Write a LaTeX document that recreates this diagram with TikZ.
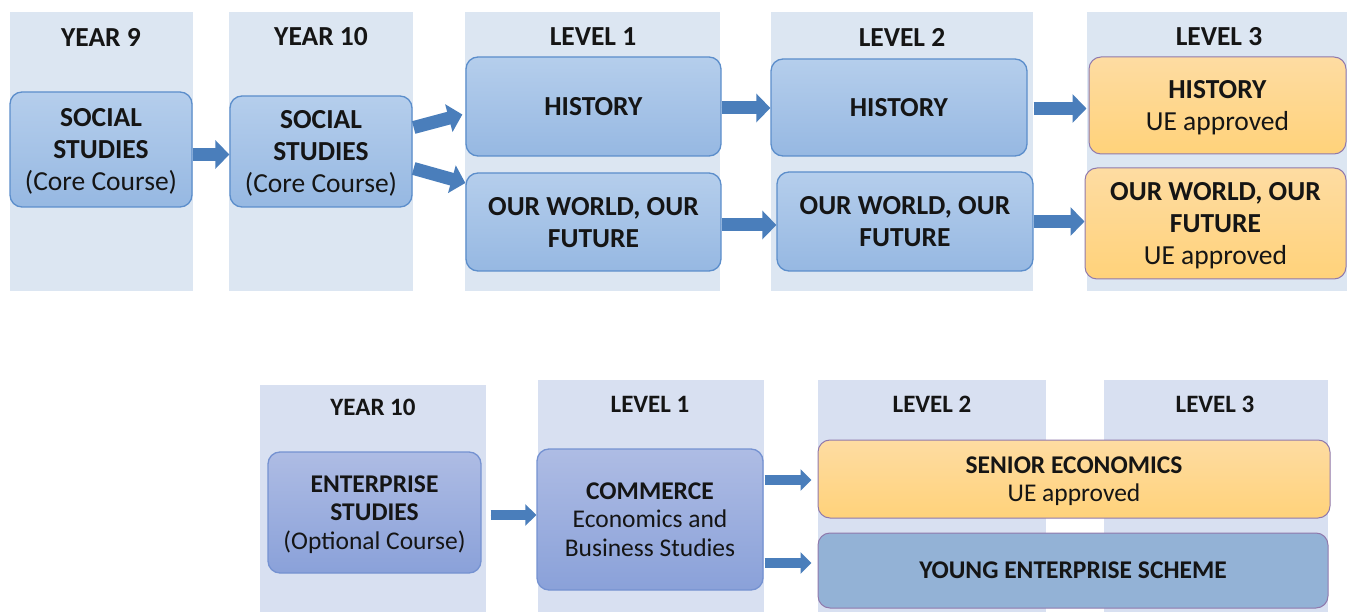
\documentclass[tikz,border=0pt]{standalone}
\usepackage{fontspec}
\setmainfont{Carlito}
\usetikzlibrary{arrows.meta,calc}
\definecolor{colA}{HTML}{DCE6F2}
\definecolor{colB}{HTML}{D8E0F1}
\definecolor{blueT}{HTML}{B5CEEC}
\definecolor{blueB}{HTML}{96B8E2}
\definecolor{blueD}{HTML}{5C8ECB}
\definecolor{purT}{HTML}{AEBCE4}
\definecolor{purB}{HTML}{8AA1D9}
\definecolor{purD}{HTML}{7592D1}
\definecolor{orT}{HTML}{FEDCA2}
\definecolor{orB}{HTML}{FFD27A}
\definecolor{orD}{HTML}{9079AC}
\definecolor{yesF}{HTML}{93B2D6}
\definecolor{arr}{HTML}{4A7EBB}
\definecolor{txt}{HTML}{151515}
\begin{document}
\begin{tikzpicture}[x=1pt,y=-1pt,
  hdr/.style={font=\fontsize{27.5}{31}\selectfont\bfseries, text=txt, inner sep=0},
  hdrb/.style={font=\fontsize{25}{29}\selectfont\bfseries, text=txt, inner sep=0},
  box/.style={rounded corners=12pt, line width=1.3pt, align=center, inner sep=0, text=txt,
              text depth=0pt, font=\fontsize{27.5}{32}\selectfont},
  bluebox/.style={box, draw=blueD, top color=blueT, bottom color=blueB},
  orbox/.style={box, draw=orD, top color=orT, bottom color=orB, line width=1pt},
  pbox/.style={box, draw=purD, top color=purT, bottom color=purB, font=\fontsize{25.5}{28.5}\selectfont},
  orboxb/.style={orbox, font=\fontsize{25.5}{28.5}\selectfont},
  yesbox/.style={box, draw=orD, fill=yesF, line width=1pt, font=\fontsize{25.5}{28.5}\selectfont},
  bigarrow/.style={draw=arr, line width=13pt, -{Triangle[width=28pt,length=14pt]}, fill=arr},
  smallarrow/.style={draw=arr, line width=10pt, -{Triangle[width=21pt,length=11pt]}, fill=arr}
]
\useasboundingbox (0,0) rectangle (1347,612);
% top columns
\fill[colA] (10,12) rectangle (193,291);
\fill[colA] (229,12) rectangle (413,291);
\fill[colA] (465,12) rectangle (720,291);
\fill[colA] (771,12) rectangle (1033,291);
\fill[colA] (1087,12) rectangle (1347,291);
\node[hdr] (h9) at (101,37) {YEAR 9};
\node[hdr] (h10) at (321,37) {YEAR 10};
\node[hdr] (hl1) at (593,37) {LEVEL 1};
\node[hdr] (hl2) at (902,37) {LEVEL 2};
\node[hdr] (hl3) at (1219,37) {LEVEL 3};
% top boxes
\node[bluebox, minimum width=182, minimum height=115] (ss9) at (101,149.5) {\textbf{SOCIAL}\\\textbf{STUDIES}\\(Core Course)};
\node[bluebox, minimum width=182, minimum height=111] (ss10) at (321,151.5) {\textbf{SOCIAL}\\\textbf{STUDIES}\\(Core Course)};
\node[bluebox, minimum width=255, minimum height=99] (hist1) at (593.5,106.5) {\textbf{HISTORY}};
\node[bluebox, minimum width=255, minimum height=98] (owof1) at (593.5,222) {\textbf{OUR WORLD, OUR}\\\textbf{FUTURE}};
\node[bluebox, minimum width=256, minimum height=97] (hist2) at (899,107.5) {\textbf{HISTORY}};
\node[bluebox, minimum width=256, minimum height=99] (owof2) at (905,221.5) {\textbf{OUR WORLD, OUR}\\\textbf{FUTURE}};
\node[orbox, minimum width=257, minimum height=97] (hist3) at (1217.5,105.5) {\textbf{HISTORY}\\UE approved};
\node[orbox, minimum width=261, minimum height=111] (owof3) at (1215.5,223.5) {\textbf{OUR WORLD, OUR}\\\textbf{FUTURE}\\UE approved};
% top arrows
\draw[bigarrow] ($(ss9.east)+(0,5)$) -- ($(ss9.east -| ss10.west)+(0,5)$);
\draw[bigarrow] ($(ss10.east)+(1,-24)$) -- ($(hist1.west)+(-3,8)$);
\draw[bigarrow] ($(ss10.east)+(1,17)$) -- ($(owof1.west)+(0,-39)$);
\draw[bigarrow] ($(hist1.east)+(0,1.5)$) -- ($(hist1.east -| hist2.west)+(0,1.5)$);
\draw[bigarrow] ($(owof1.east)+(0,3)$) -- ($(owof1.east -| owof2.west)+(0,3)$);
\draw[bigarrow] ($(hist2.east)+(6,1)$) -- ($(hist2.east -| hist3.west)+(-2,1)$);
\draw[bigarrow] ($(owof2.east)+(0,0)$) -- ($(owof2.east -| owof3.west)+(0,0)$);
% bottom columns
\fill[colB] (260,385) rectangle (486,612);
\fill[colB] (538,380) rectangle (764,612);
\fill[colB] (818,380) rectangle (1046,612);
\fill[colB] (1104,380) rectangle (1328,612);
\node[hdrb] (b10) at (373,407) {YEAR 10};
\node[hdrb] (bl1) at (650,404) {LEVEL 1};
\node[hdrb] (bl2) at (932,404) {LEVEL 2};
\node[hdrb] (bl3) at (1215,404) {LEVEL 3};
% bottom boxes
\node[pbox, minimum width=213, minimum height=121] (es) at (374.5,512.5) {\textbf{ENTERPRISE}\\\textbf{STUDIES}\\(Optional Course)};
\node[pbox, minimum width=226, minimum height=141] (com) at (650,519.5) {\textbf{COMMERCE}\\Economics and\\Business Studies};
\node[orboxb, minimum width=512, minimum height=78] (se) at (1074,479) {\textbf{SENIOR ECONOMICS}\\UE approved};
\node[yesbox, minimum width=510, minimum height=75] (yes) at (1073,570.5) {\textbf{YOUNG ENTERPRISE SCHEME}};
% bottom arrows
\draw[smallarrow] ($(es.east)+(9,2.5)$) -- ($(es.east -| com.west)+(0,2.5)$);
\draw[smallarrow] ($(com.east)+(1,-39.5)$) -- ($(com.east -| se.west)+(-6,-39.5)$);
\draw[smallarrow] ($(com.east)+(1,43.5)$) -- ($(com.east -| yes.west)+(-6,43.5)$);
\end{tikzpicture}
\end{document}
